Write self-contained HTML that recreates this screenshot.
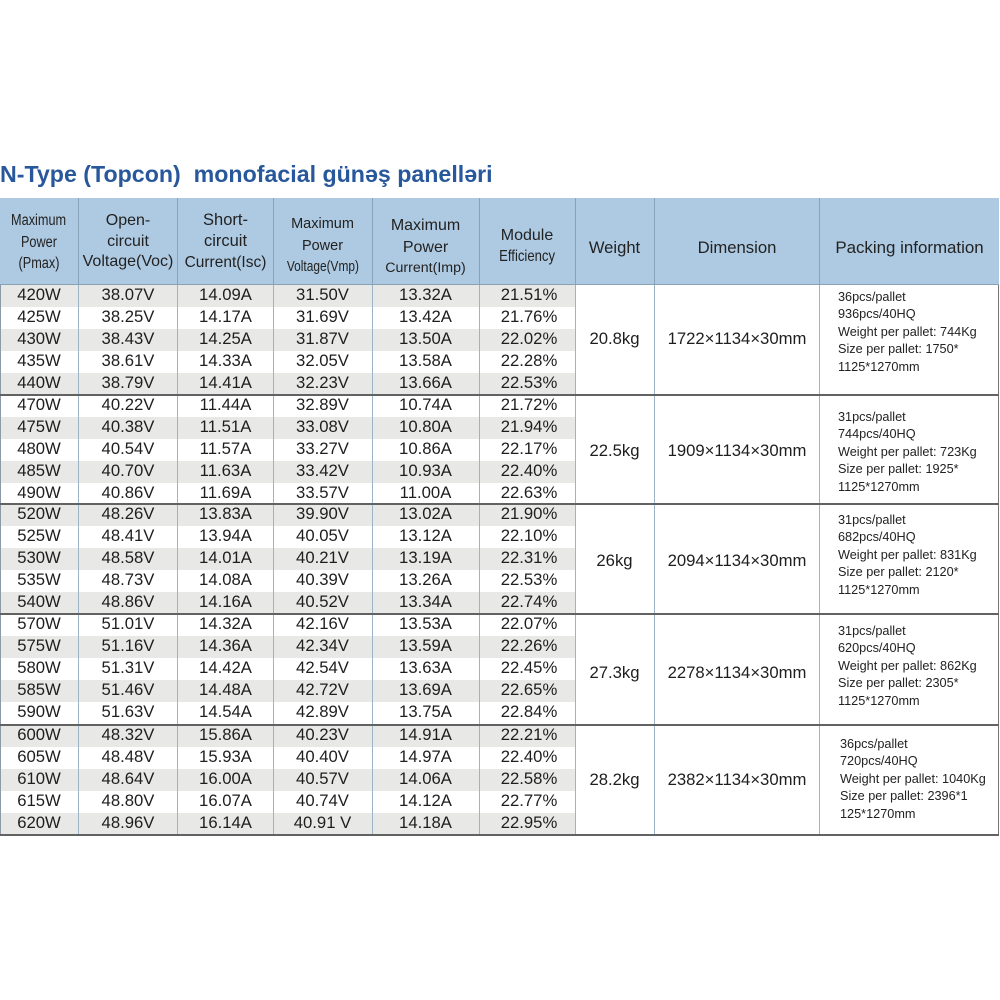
<!DOCTYPE html>
<html><head><meta charset="utf-8">
<style>
*{margin:0;padding:0;box-sizing:border-box}
body{width:1000px;height:1000px;background:#fff;position:relative;overflow:hidden;font-family:"Liberation Sans",Arial,sans-serif;color:#1e1e1e}
.t{position:absolute;left:0;top:159px;font-size:23.2px;font-weight:bold;color:#28589b;white-space:pre;line-height:30px}
.hd{position:absolute;left:0;top:198px;width:999px;height:86px;background:#aecae2}
.hl{position:absolute;top:198px;height:87px;width:1px;background:#88a2b8}
.bl{position:absolute;top:284px;height:551px;width:1px;background:#9db3c7}
.gl{position:absolute;left:0;width:999px;height:2px;background:#626262}
.h{position:absolute;text-align:center;font-size:16px;line-height:21px;color:#222;white-space:nowrap}
.h>span{display:block}
.cx{display:inline-block;transform:scaleX(0.82);transform-origin:center}
.r{position:absolute;left:0;width:575px;height:22px}
.r.g{background:#e8e8e7}
.c{position:absolute;top:-1px;height:22px;line-height:22px;text-align:center;font-size:16.7px;white-space:nowrap}
.c1{left:0;width:78px}.c2{left:78px;width:100px}.c3{left:178px;width:95px}.c4{left:273px;width:99px}.c5{left:372px;width:107px}.c6{left:479px;width:100px}
.w{position:absolute;left:575px;width:79px;text-align:center;font-size:16.7px;line-height:22px}
.d{position:absolute;left:654px;width:166px;text-align:center;font-size:16.7px;line-height:22px}
.p{position:absolute;left:838px;font-size:12.7px;line-height:17.4px;white-space:nowrap;color:#222}
</style></head><body>
<div class="t">N-Type (Topcon)  monofacial günəş panelləri</div>
<div class="hd"></div>

<!-- header text -->
<div class="h" style="left:0;width:78px;top:210px;font-size:15.5px;line-height:21.5px"><span><span class="cx">Maximum</span></span><span><span class="cx">Power</span></span><span><span class="cx">(Pmax)</span></span></div>
<div class="h" style="left:78px;width:100px;top:211px;line-height:20.5px"><span>Open-</span><span>circuit</span><span>Voltage(Voc)</span></div>
<div class="h" style="left:178px;width:95px;top:210px;font-size:15.5px;line-height:21px"><span style="font-size:16.5px">Short-</span><span style="font-size:16.5px">circuit</span><span>Current(Isc)</span></div>
<div class="h" style="left:273px;width:99px;top:214px;font-size:14.5px;line-height:21.5px"><span>Maximum</span><span>Power</span><span><span class="cx">Voltage(Vmp)</span></span></div>
<div class="h" style="left:372px;width:107px;top:215px;line-height:21.5px"><span>Maximum</span><span>Power</span><span style="font-size:14.2px">Current(Imp)</span></div>
<div class="h" style="left:479px;width:96px;top:225px;line-height:21px"><span>Module</span><span><span class="cx">Efficiency</span></span></div>
<div class="h" style="left:575px;width:79px;top:237px;font-size:16.6px">Weight</div>
<div class="h" style="left:654px;width:166px;top:237px;font-size:16.7px">Dimension</div>
<div class="h" style="left:820px;width:179px;top:237px;font-size:16.9px">Packing information</div>

<!-- rows group 1 -->
<div class="r g" style="top:285px"><div class="c c1">420W</div><div class="c c2">38.07V</div><div class="c c3">14.09A</div><div class="c c4">31.50V</div><div class="c c5">13.32A</div><div class="c c6">21.51%</div></div>
<div class="r" style="top:307px"><div class="c c1">425W</div><div class="c c2">38.25V</div><div class="c c3">14.17A</div><div class="c c4">31.69V</div><div class="c c5">13.42A</div><div class="c c6">21.76%</div></div>
<div class="r g" style="top:329px"><div class="c c1">430W</div><div class="c c2">38.43V</div><div class="c c3">14.25A</div><div class="c c4">31.87V</div><div class="c c5">13.50A</div><div class="c c6">22.02%</div></div>
<div class="r" style="top:351px"><div class="c c1">435W</div><div class="c c2">38.61V</div><div class="c c3">14.33A</div><div class="c c4">32.05V</div><div class="c c5">13.58A</div><div class="c c6">22.28%</div></div>
<div class="r g" style="top:373px"><div class="c c1">440W</div><div class="c c2">38.79V</div><div class="c c3">14.41A</div><div class="c c4">32.23V</div><div class="c c5">13.66A</div><div class="c c6">22.53%</div></div>
<!-- group 2 -->
<div class="r" style="top:395px"><div class="c c1">470W</div><div class="c c2">40.22V</div><div class="c c3">11.44A</div><div class="c c4">32.89V</div><div class="c c5">10.74A</div><div class="c c6">21.72%</div></div>
<div class="r g" style="top:417px"><div class="c c1">475W</div><div class="c c2">40.38V</div><div class="c c3">11.51A</div><div class="c c4">33.08V</div><div class="c c5">10.80A</div><div class="c c6">21.94%</div></div>
<div class="r" style="top:439px"><div class="c c1">480W</div><div class="c c2">40.54V</div><div class="c c3">11.57A</div><div class="c c4">33.27V</div><div class="c c5">10.86A</div><div class="c c6">22.17%</div></div>
<div class="r g" style="top:461px"><div class="c c1">485W</div><div class="c c2">40.70V</div><div class="c c3">11.63A</div><div class="c c4">33.42V</div><div class="c c5">10.93A</div><div class="c c6">22.40%</div></div>
<div class="r" style="top:483px"><div class="c c1">490W</div><div class="c c2">40.86V</div><div class="c c3">11.69A</div><div class="c c4">33.57V</div><div class="c c5">11.00A</div><div class="c c6">22.63%</div></div>
<!-- group 3 -->
<div class="r g" style="top:504px"><div class="c c1">520W</div><div class="c c2">48.26V</div><div class="c c3">13.83A</div><div class="c c4">39.90V</div><div class="c c5">13.02A</div><div class="c c6">21.90%</div></div>
<div class="r" style="top:526px"><div class="c c1">525W</div><div class="c c2">48.41V</div><div class="c c3">13.94A</div><div class="c c4">40.05V</div><div class="c c5">13.12A</div><div class="c c6">22.10%</div></div>
<div class="r g" style="top:548px"><div class="c c1">530W</div><div class="c c2">48.58V</div><div class="c c3">14.01A</div><div class="c c4">40.21V</div><div class="c c5">13.19A</div><div class="c c6">22.31%</div></div>
<div class="r" style="top:570px"><div class="c c1">535W</div><div class="c c2">48.73V</div><div class="c c3">14.08A</div><div class="c c4">40.39V</div><div class="c c5">13.26A</div><div class="c c6">22.53%</div></div>
<div class="r g" style="top:592px"><div class="c c1">540W</div><div class="c c2">48.86V</div><div class="c c3">14.16A</div><div class="c c4">40.52V</div><div class="c c5">13.34A</div><div class="c c6">22.74%</div></div>
<!-- group 4 -->
<div class="r" style="top:614px"><div class="c c1">570W</div><div class="c c2">51.01V</div><div class="c c3">14.32A</div><div class="c c4">42.16V</div><div class="c c5">13.53A</div><div class="c c6">22.07%</div></div>
<div class="r g" style="top:636px"><div class="c c1">575W</div><div class="c c2">51.16V</div><div class="c c3">14.36A</div><div class="c c4">42.34V</div><div class="c c5">13.59A</div><div class="c c6">22.26%</div></div>
<div class="r" style="top:658px"><div class="c c1">580W</div><div class="c c2">51.31V</div><div class="c c3">14.42A</div><div class="c c4">42.54V</div><div class="c c5">13.63A</div><div class="c c6">22.45%</div></div>
<div class="r g" style="top:680px"><div class="c c1">585W</div><div class="c c2">51.46V</div><div class="c c3">14.48A</div><div class="c c4">42.72V</div><div class="c c5">13.69A</div><div class="c c6">22.65%</div></div>
<div class="r" style="top:702px"><div class="c c1">590W</div><div class="c c2">51.63V</div><div class="c c3">14.54A</div><div class="c c4">42.89V</div><div class="c c5">13.75A</div><div class="c c6">22.84%</div></div>
<!-- group 5 -->
<div class="r g" style="top:725px"><div class="c c1">600W</div><div class="c c2">48.32V</div><div class="c c3">15.86A</div><div class="c c4">40.23V</div><div class="c c5">14.91A</div><div class="c c6">22.21%</div></div>
<div class="r" style="top:747px"><div class="c c1">605W</div><div class="c c2">48.48V</div><div class="c c3">15.93A</div><div class="c c4">40.40V</div><div class="c c5">14.97A</div><div class="c c6">22.40%</div></div>
<div class="r g" style="top:769px"><div class="c c1">610W</div><div class="c c2">48.64V</div><div class="c c3">16.00A</div><div class="c c4">40.57V</div><div class="c c5">14.06A</div><div class="c c6">22.58%</div></div>
<div class="r" style="top:791px"><div class="c c1">615W</div><div class="c c2">48.80V</div><div class="c c3">16.07A</div><div class="c c4">40.74V</div><div class="c c5">14.12A</div><div class="c c6">22.77%</div></div>
<div class="r g" style="top:813px"><div class="c c1">620W</div><div class="c c2">48.96V</div><div class="c c3">16.14A</div><div class="c c4">40.91 V</div><div class="c c5">14.18A</div><div class="c c6">22.95%</div></div>

<!-- weight / dimension -->
<div class="w" style="top:328px">20.8kg</div><div class="d" style="top:328px">1722×1134×30mm</div>
<div class="w" style="top:440px">22.5kg</div><div class="d" style="top:440px">1909×1134×30mm</div>
<div class="w" style="top:550px">26kg</div><div class="d" style="top:550px">2094×1134×30mm</div>
<div class="w" style="top:662px">27.3kg</div><div class="d" style="top:662px">2278×1134×30mm</div>
<div class="w" style="top:769px">28.2kg</div><div class="d" style="top:769px">2382×1134×30mm</div>

<!-- packing -->
<div class="p" style="top:289px">36pcs/pallet<br>936pcs/40HQ<br>Weight per pallet: 744Kg<br>Size per pallet: 1750*<br>1125*1270mm</div>
<div class="p" style="top:409px">31pcs/pallet<br>744pcs/40HQ<br>Weight per pallet: 723Kg<br>Size per pallet: 1925*<br>1125*1270mm</div>
<div class="p" style="top:512px">31pcs/pallet<br>682pcs/40HQ<br>Weight per pallet: 831Kg<br>Size per pallet: 2120*<br>1125*1270mm</div>
<div class="p" style="top:623px">31pcs/pallet<br>620pcs/40HQ<br>Weight per pallet: 862Kg<br>Size per pallet: 2305*<br>1125*1270mm</div>
<div class="p" style="top:736px;left:840px">36pcs/pallet<br>720pcs/40HQ<br>Weight per pallet: 1040Kg<br>Size per pallet: 2396*1<br>125*1270mm</div>

<!-- header vertical lines -->
<div class="hl" style="left:78px"></div><div class="hl" style="left:177px"></div><div class="hl" style="left:273px"></div><div class="hl" style="left:372px"></div><div class="hl" style="left:479px"></div><div class="hl" style="left:575px"></div><div class="hl" style="left:654px"></div><div class="hl" style="left:819px"></div>
<!-- body vertical lines -->
<div class="bl" style="left:0px;background:#8c9aa8"></div>
<div class="bl" style="left:78px"></div><div class="bl" style="left:177px"></div><div class="bl" style="left:273px"></div><div class="bl" style="left:372px"></div><div class="bl" style="left:479px"></div><div class="bl" style="left:575px"></div><div class="bl" style="left:654px"></div><div class="bl" style="left:819px"></div>
<div class="bl" style="left:998px;background:#777"></div>
<!-- header bottom line -->
<div style="position:absolute;left:0;top:284px;width:999px;height:1px;background:#8aa2b6"></div>
<!-- group lines -->
<div class="gl" style="top:394px"></div>
<div class="gl" style="top:503px"></div>
<div class="gl" style="top:613px"></div>
<div class="gl" style="top:724px"></div>
<div class="gl" style="top:834px"></div>
</body></html>
